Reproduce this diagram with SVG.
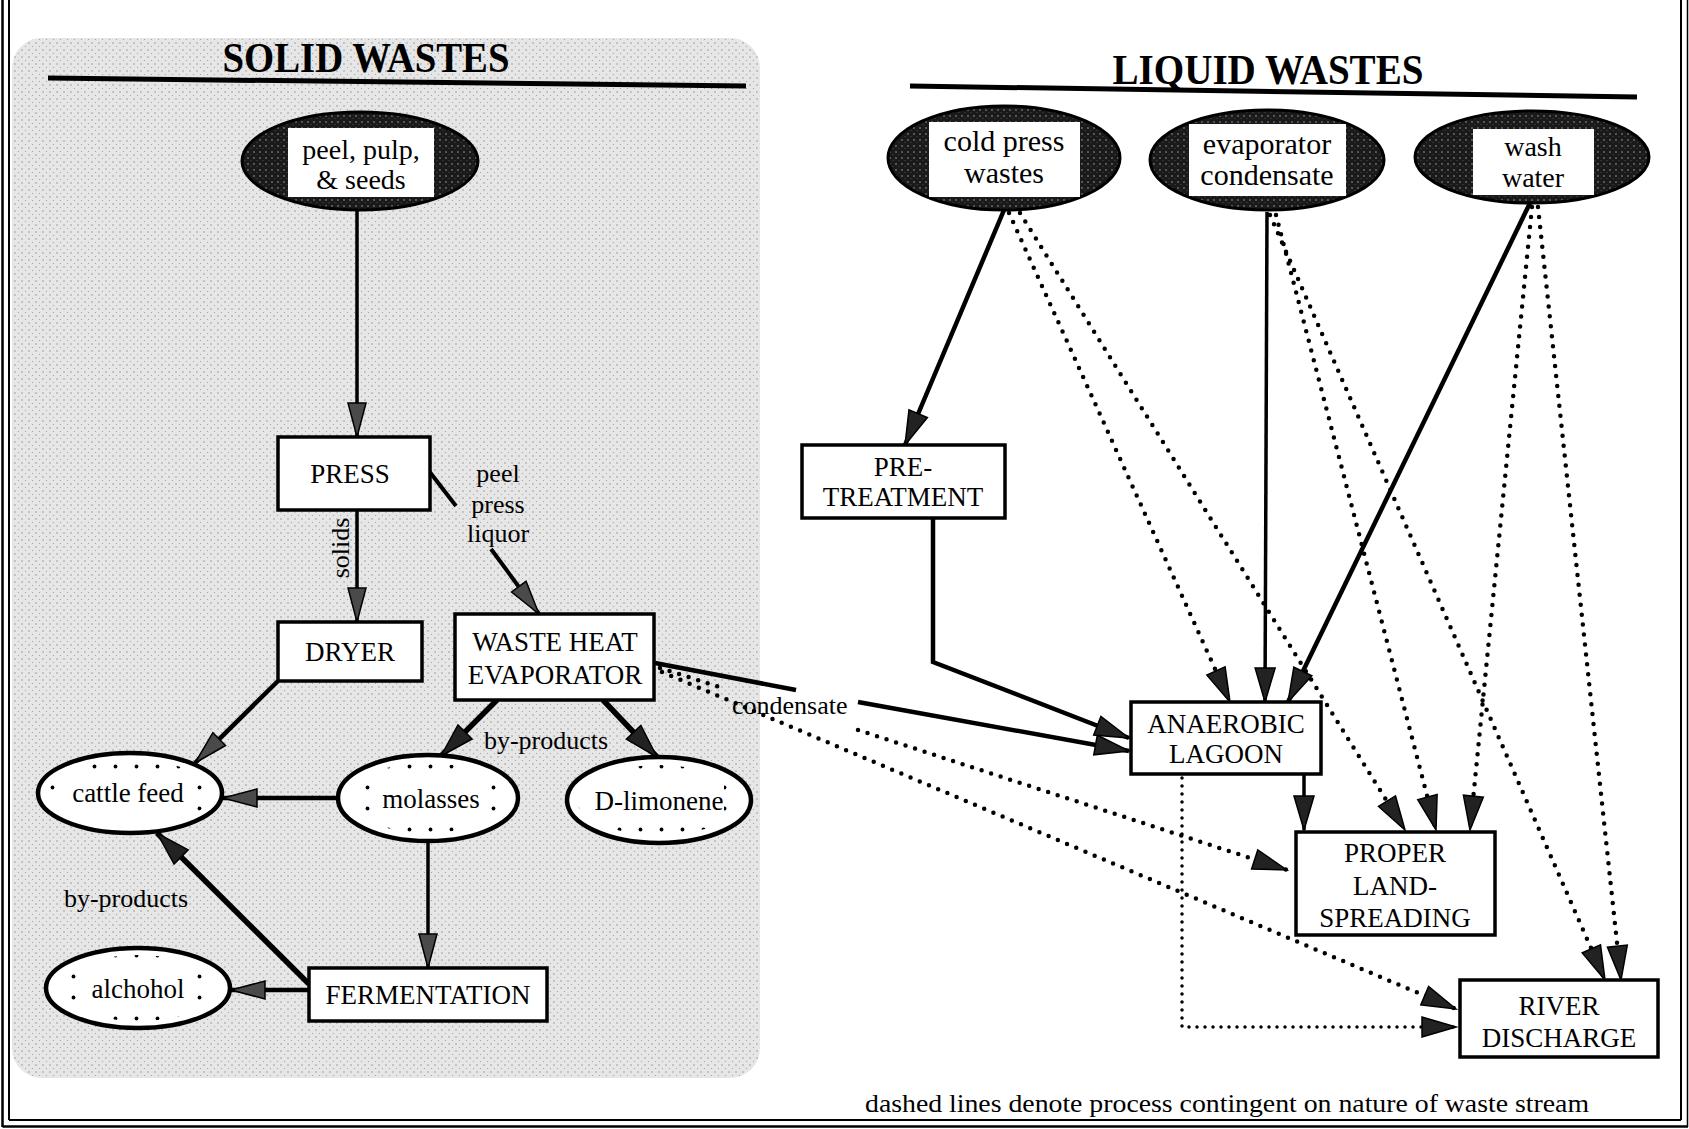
<svg xmlns="http://www.w3.org/2000/svg" width="1689" height="1129" viewBox="0 0 1689 1129">
  <style>
    .t { font-family: "Liberation Serif", "Times New Roman", serif; fill: #000; }
    .title { font-family: "Liberation Serif", "Times New Roman", serif; font-weight: bold; font-size: 42px; text-anchor: middle; }
    .lbl { font-size: 27px; text-anchor: middle; }
    .src { font-size: 30px; text-anchor: middle; }
    .src2 { font-size: 28px; text-anchor: middle; }
    .box { fill: #fff; stroke: #000; stroke-width: 3.5; }
    .solid { fill: none; stroke: #000; stroke-linecap: butt; stroke-linejoin: miter; }
    .dot { fill: none; stroke: #000; stroke-width: 4.5; stroke-dasharray: 0 10; stroke-linecap: round; }
    .dotfine { fill: none; stroke: #000; stroke-width: 3.5; stroke-dasharray: 0 8; stroke-linecap: round; }
  </style>
  <defs>
    <pattern id="stipple" width="7" height="7" patternUnits="userSpaceOnUse">
      <rect width="7" height="7" fill="#e6e6e6"/>
      <circle cx="1" cy="1" r="0.7" fill="#858585"/>
      <circle cx="4.5" cy="4.5" r="0.6" fill="#9a9a9a"/>
    </pattern>
    <pattern id="darkfill" width="6" height="6" patternUnits="userSpaceOnUse">
      <rect width="6" height="6" fill="#1a1a1a"/>
      <circle cx="2" cy="2" r="0.9" fill="#707070"/>
      <circle cx="5" cy="4.5" r="0.6" fill="#505050"/>
    </pattern>
    <pattern id="dots" width="21" height="21" patternUnits="userSpaceOnUse">
      <circle cx="10.5" cy="10.5" r="1.9" fill="#000"/>
    </pattern>
    <marker id="ah" markerUnits="userSpaceOnUse" viewBox="-37 -12 39 24" refX="0" refY="0" markerWidth="39" markerHeight="24" orient="auto">
      <path d="M0,0 L-34,-10 L-34,10 Z" fill="#222" stroke="#000" stroke-width="1.5"/>
    </marker>
    <marker id="ahg" markerUnits="userSpaceOnUse" viewBox="-37 -12 39 24" refX="0" refY="0" markerWidth="39" markerHeight="24" orient="auto">
      <path d="M0,0 L-34,-9 L-34,9 Z" fill="#4a4a4a" stroke="#000" stroke-width="1.5"/>
    </marker>
  </defs>

  <!-- page -->
  <rect width="1689" height="1129" fill="#fff"/>
  <!-- shaded panel behind the solid-waste flow -->
  <rect x="12" y="38" width="748" height="1040" rx="30" fill="url(#stipple)"/>

  <!-- frame -->
  <g id="frame" fill="none" stroke="#000">
    <line x1="2.5" y1="0" x2="2.5" y2="1127" stroke-width="2.5"/>
    <line x1="9" y1="0" x2="9" y2="1120" stroke-width="2"/>
    <line x1="9" y1="1120" x2="1681" y2="1120" stroke-width="2"/>
    <line x1="2.5" y1="1126.5" x2="1688" y2="1126.5" stroke-width="2.5"/>
    <line x1="1681" y1="0" x2="1681" y2="1120" stroke-width="2"/>
    <line x1="1687.5" y1="0" x2="1687.5" y2="1127" stroke-width="1.5"/>
  </g>

  <!-- section headings -->
  <g id="heading-solid">
    <text class="t title" x="366" y="72" textLength="287" lengthAdjust="spacingAndGlyphs">SOLID WASTES</text>
    <line x1="48" y1="78" x2="746" y2="86" stroke="#000" stroke-width="5"/>
  </g>
  <g id="heading-liquid">
    <text class="t title" x="1268" y="84" textLength="311" lengthAdjust="spacingAndGlyphs">LIQUID WASTES</text>
    <line x1="910" y1="86" x2="1637" y2="97" stroke="#000" stroke-width="5"/>
  </g>

  <!-- connectors -->
  <g id="connectors">
    <!-- solid-waste side -->
    <line class="solid" x1="357" y1="211" x2="357" y2="437" stroke-width="3.5" marker-end="url(#ahg)"/>
    <line class="solid" x1="357" y1="510" x2="357" y2="622" stroke-width="3.5" marker-end="url(#ahg)"/>
    <line class="solid" x1="429" y1="471" x2="456" y2="506" stroke-width="4"/>
    <line class="solid" x1="491" y1="549" x2="539" y2="614" stroke-width="4" marker-end="url(#ahg)"/>
    <line class="solid" x1="497" y1="700" x2="441" y2="756" stroke-width="5.5" marker-end="url(#ah)"/>
    <line class="solid" x1="603" y1="700" x2="657" y2="757" stroke-width="5.5" marker-end="url(#ah)"/>
    <line class="solid" x1="278" y1="681" x2="195" y2="763" stroke-width="4.5" marker-end="url(#ahg)"/>
    <line class="solid" x1="338" y1="798" x2="223" y2="798" stroke-width="4.5" marker-end="url(#ahg)"/>
    <line class="solid" x1="428" y1="841" x2="428" y2="968" stroke-width="3.5" marker-end="url(#ahg)"/>
    <line class="solid" x1="309" y1="984" x2="157" y2="833" stroke-width="5.5" marker-end="url(#ah)"/>
    <line class="solid" x1="309" y1="990" x2="231" y2="990" stroke-width="4.5" marker-end="url(#ahg)"/>
    <!-- condensate from the evaporator -->
    <line class="solid" x1="655" y1="663" x2="796" y2="690" stroke-width="4.5"/>
    <line class="solid" x1="858" y1="702" x2="1129" y2="751" stroke-width="4.5" marker-end="url(#ah)"/>
    <line class="dot" x1="660" y1="668" x2="726" y2="689"/>
    <line class="dot" x1="858" y1="730" x2="1287" y2="870" marker-end="url(#ah)"/>
    <line class="dot" x1="662" y1="672" x2="1456" y2="1009" marker-end="url(#ah)"/>

    <!-- liquid-waste side -->
    <line class="solid" x1="1004" y1="210" x2="905" y2="445" stroke-width="4.5" marker-end="url(#ah)"/>
    <polyline class="solid" points="933,518 933,662 1129,738" stroke-width="4.5" marker-end="url(#ah)"/>
    <line class="dot" x1="1009" y1="213" x2="1230" y2="702" marker-end="url(#ah)"/>
    <line class="dot" x1="1020" y1="213" x2="1405" y2="830" marker-end="url(#ah)"/>
    <line class="solid" x1="1267" y1="212" x2="1265" y2="702" stroke-width="3.5" marker-end="url(#ah)"/>
    <line class="dot" x1="1276" y1="215" x2="1436" y2="830" marker-end="url(#ah)"/>
    <line class="dot" x1="1270" y1="215" x2="1605" y2="980" marker-end="url(#ah)"/>
    <line class="solid" x1="1530" y1="203" x2="1288" y2="702" stroke-width="4.5" marker-end="url(#ah)"/>
    <line class="dot" x1="1532" y1="207" x2="1470" y2="830" marker-end="url(#ah)"/>
    <line class="dot" x1="1538" y1="207" x2="1621" y2="980" marker-end="url(#ah)"/>
    <line class="solid" x1="1304" y1="775" x2="1304" y2="830" stroke-width="3.5" marker-end="url(#ah)"/>
    <polyline class="dotfine" points="1182,778 1182,1027 1456,1027" marker-end="url(#ah)"/>
  </g>

  <!-- connector labels -->
  <g id="edge-labels" class="t" font-size="26">
    <text x="349" y="548" text-anchor="middle" transform="rotate(-90 349 548)">solids</text>
    <text x="498" y="482" text-anchor="middle">peel</text>
    <text x="498" y="513" text-anchor="middle">press</text>
    <text x="498" y="542" text-anchor="middle">liquor</text>
    <text x="546" y="749" text-anchor="middle">by-products</text>
    <text x="126" y="907" text-anchor="middle">by-products</text>
    <text x="732" y="714">condensate</text>
  </g>

  <!-- source streams -->
  <g id="peel-pulp-seeds">
    <ellipse cx="360" cy="161" rx="118" ry="49" fill="url(#darkfill)" stroke="#000" stroke-width="3"/>
    <rect x="288" y="128" width="146" height="69" fill="#fff"/>
    <text class="t src2" x="361" y="159">peel, pulp,</text>
    <text class="t src2" x="361" y="189">&amp; seeds</text>
  </g>
  <g id="cold-press-wastes">
    <ellipse cx="1004" cy="158" rx="116" ry="52" fill="url(#darkfill)" stroke="#000" stroke-width="3"/>
    <rect x="929" y="122" width="151" height="75" fill="#fff"/>
    <text class="t src" x="1004" y="151">cold press</text>
    <text class="t src" x="1004" y="183">wastes</text>
  </g>
  <g id="evaporator-condensate">
    <ellipse cx="1267" cy="160" rx="117" ry="50" fill="url(#darkfill)" stroke="#000" stroke-width="3"/>
    <rect x="1189" y="124" width="157" height="72" fill="#fff"/>
    <text class="t src" x="1267" y="154">evaporator</text>
    <text class="t src" x="1267" y="185">condensate</text>
  </g>
  <g id="wash-water">
    <ellipse cx="1532" cy="157" rx="117" ry="46" fill="url(#darkfill)" stroke="#000" stroke-width="3"/>
    <rect x="1473" y="129" width="121" height="66" fill="#fff"/>
    <text class="t src2" x="1533" y="156">wash</text>
    <text class="t src2" x="1533" y="187">water</text>
  </g>

  <!-- process boxes -->
  <g id="press">
    <rect class="box" x="278" y="437" width="152" height="73"/>
    <text class="t lbl" x="350" y="483">PRESS</text>
  </g>
  <g id="dryer">
    <rect class="box" x="278" y="622" width="144" height="59"/>
    <text class="t lbl" x="350" y="661">DRYER</text>
  </g>
  <g id="waste-heat-evaporator">
    <rect class="box" x="455" y="614" width="199" height="86"/>
    <text class="t lbl" x="555" y="651">WASTE HEAT</text>
    <text class="t lbl" x="555" y="684">EVAPORATOR</text>
  </g>
  <g id="fermentation">
    <rect class="box" x="309" y="968" width="238" height="53"/>
    <text class="t lbl" x="428" y="1004">FERMENTATION</text>
  </g>
  <g id="pre-treatment">
    <rect class="box" x="802" y="445" width="203" height="73"/>
    <text class="t lbl" x="903" y="476">PRE-</text>
    <text class="t lbl" x="903" y="506">TREATMENT</text>
  </g>
  <g id="anaerobic-lagoon">
    <rect class="box" x="1131" y="702" width="190" height="72"/>
    <text class="t lbl" x="1226" y="733">ANAEROBIC</text>
    <text class="t lbl" x="1226" y="763">LAGOON</text>
  </g>
  <g id="proper-land-spreading">
    <rect class="box" x="1296" y="832" width="199" height="103"/>
    <text class="t lbl" x="1395" y="862">PROPER</text>
    <text class="t lbl" x="1395" y="895">LAND-</text>
    <text class="t lbl" x="1395" y="927">SPREADING</text>
  </g>
  <g id="river-discharge">
    <rect class="box" x="1460" y="980" width="198" height="77"/>
    <text class="t lbl" x="1559" y="1015">RIVER</text>
    <text class="t lbl" x="1559" y="1047">DISCHARGE</text>
  </g>

  <!-- products -->
  <g id="cattle-feed">
    <ellipse cx="130" cy="793" rx="92" ry="40" fill="#fff" stroke="#000" stroke-width="4.5"/>
    <ellipse cx="130" cy="793" rx="82" ry="33" fill="url(#dots)"/>
    <rect x="66" y="770" width="130" height="46" fill="#fff"/>
    <text class="t lbl" x="128" y="802">cattle feed</text>
  </g>
  <g id="molasses">
    <ellipse cx="428" cy="798" rx="90" ry="43" fill="#fff" stroke="#000" stroke-width="4.5"/>
    <ellipse cx="428" cy="798" rx="80" ry="35" fill="url(#dots)"/>
    <rect x="378" y="776" width="106" height="44" fill="#fff"/>
    <text class="t lbl" x="431" y="808">molasses</text>
  </g>
  <g id="d-limonene">
    <ellipse cx="659" cy="800" rx="92" ry="43" fill="#fff" stroke="#000" stroke-width="4.5"/>
    <ellipse cx="659" cy="800" rx="82" ry="35" fill="url(#dots)"/>
    <rect x="594" y="778" width="130" height="42" fill="#fff"/>
    <text class="t lbl" x="659" y="810">D-limonene</text>
  </g>
  <g id="alchohol">
    <ellipse cx="138" cy="988" rx="92" ry="40" fill="#fff" stroke="#000" stroke-width="4.5"/>
    <ellipse cx="138" cy="988" rx="82" ry="33" fill="url(#dots)"/>
    <rect x="86" y="967" width="104" height="42" fill="#fff"/>
    <text class="t lbl" x="138" y="998">alchohol</text>
  </g>

  <!-- footnote -->
  <text class="t" x="865" y="1112" font-size="26" textLength="724" lengthAdjust="spacingAndGlyphs">dashed lines denote process contingent on nature of waste stream</text>
</svg>
